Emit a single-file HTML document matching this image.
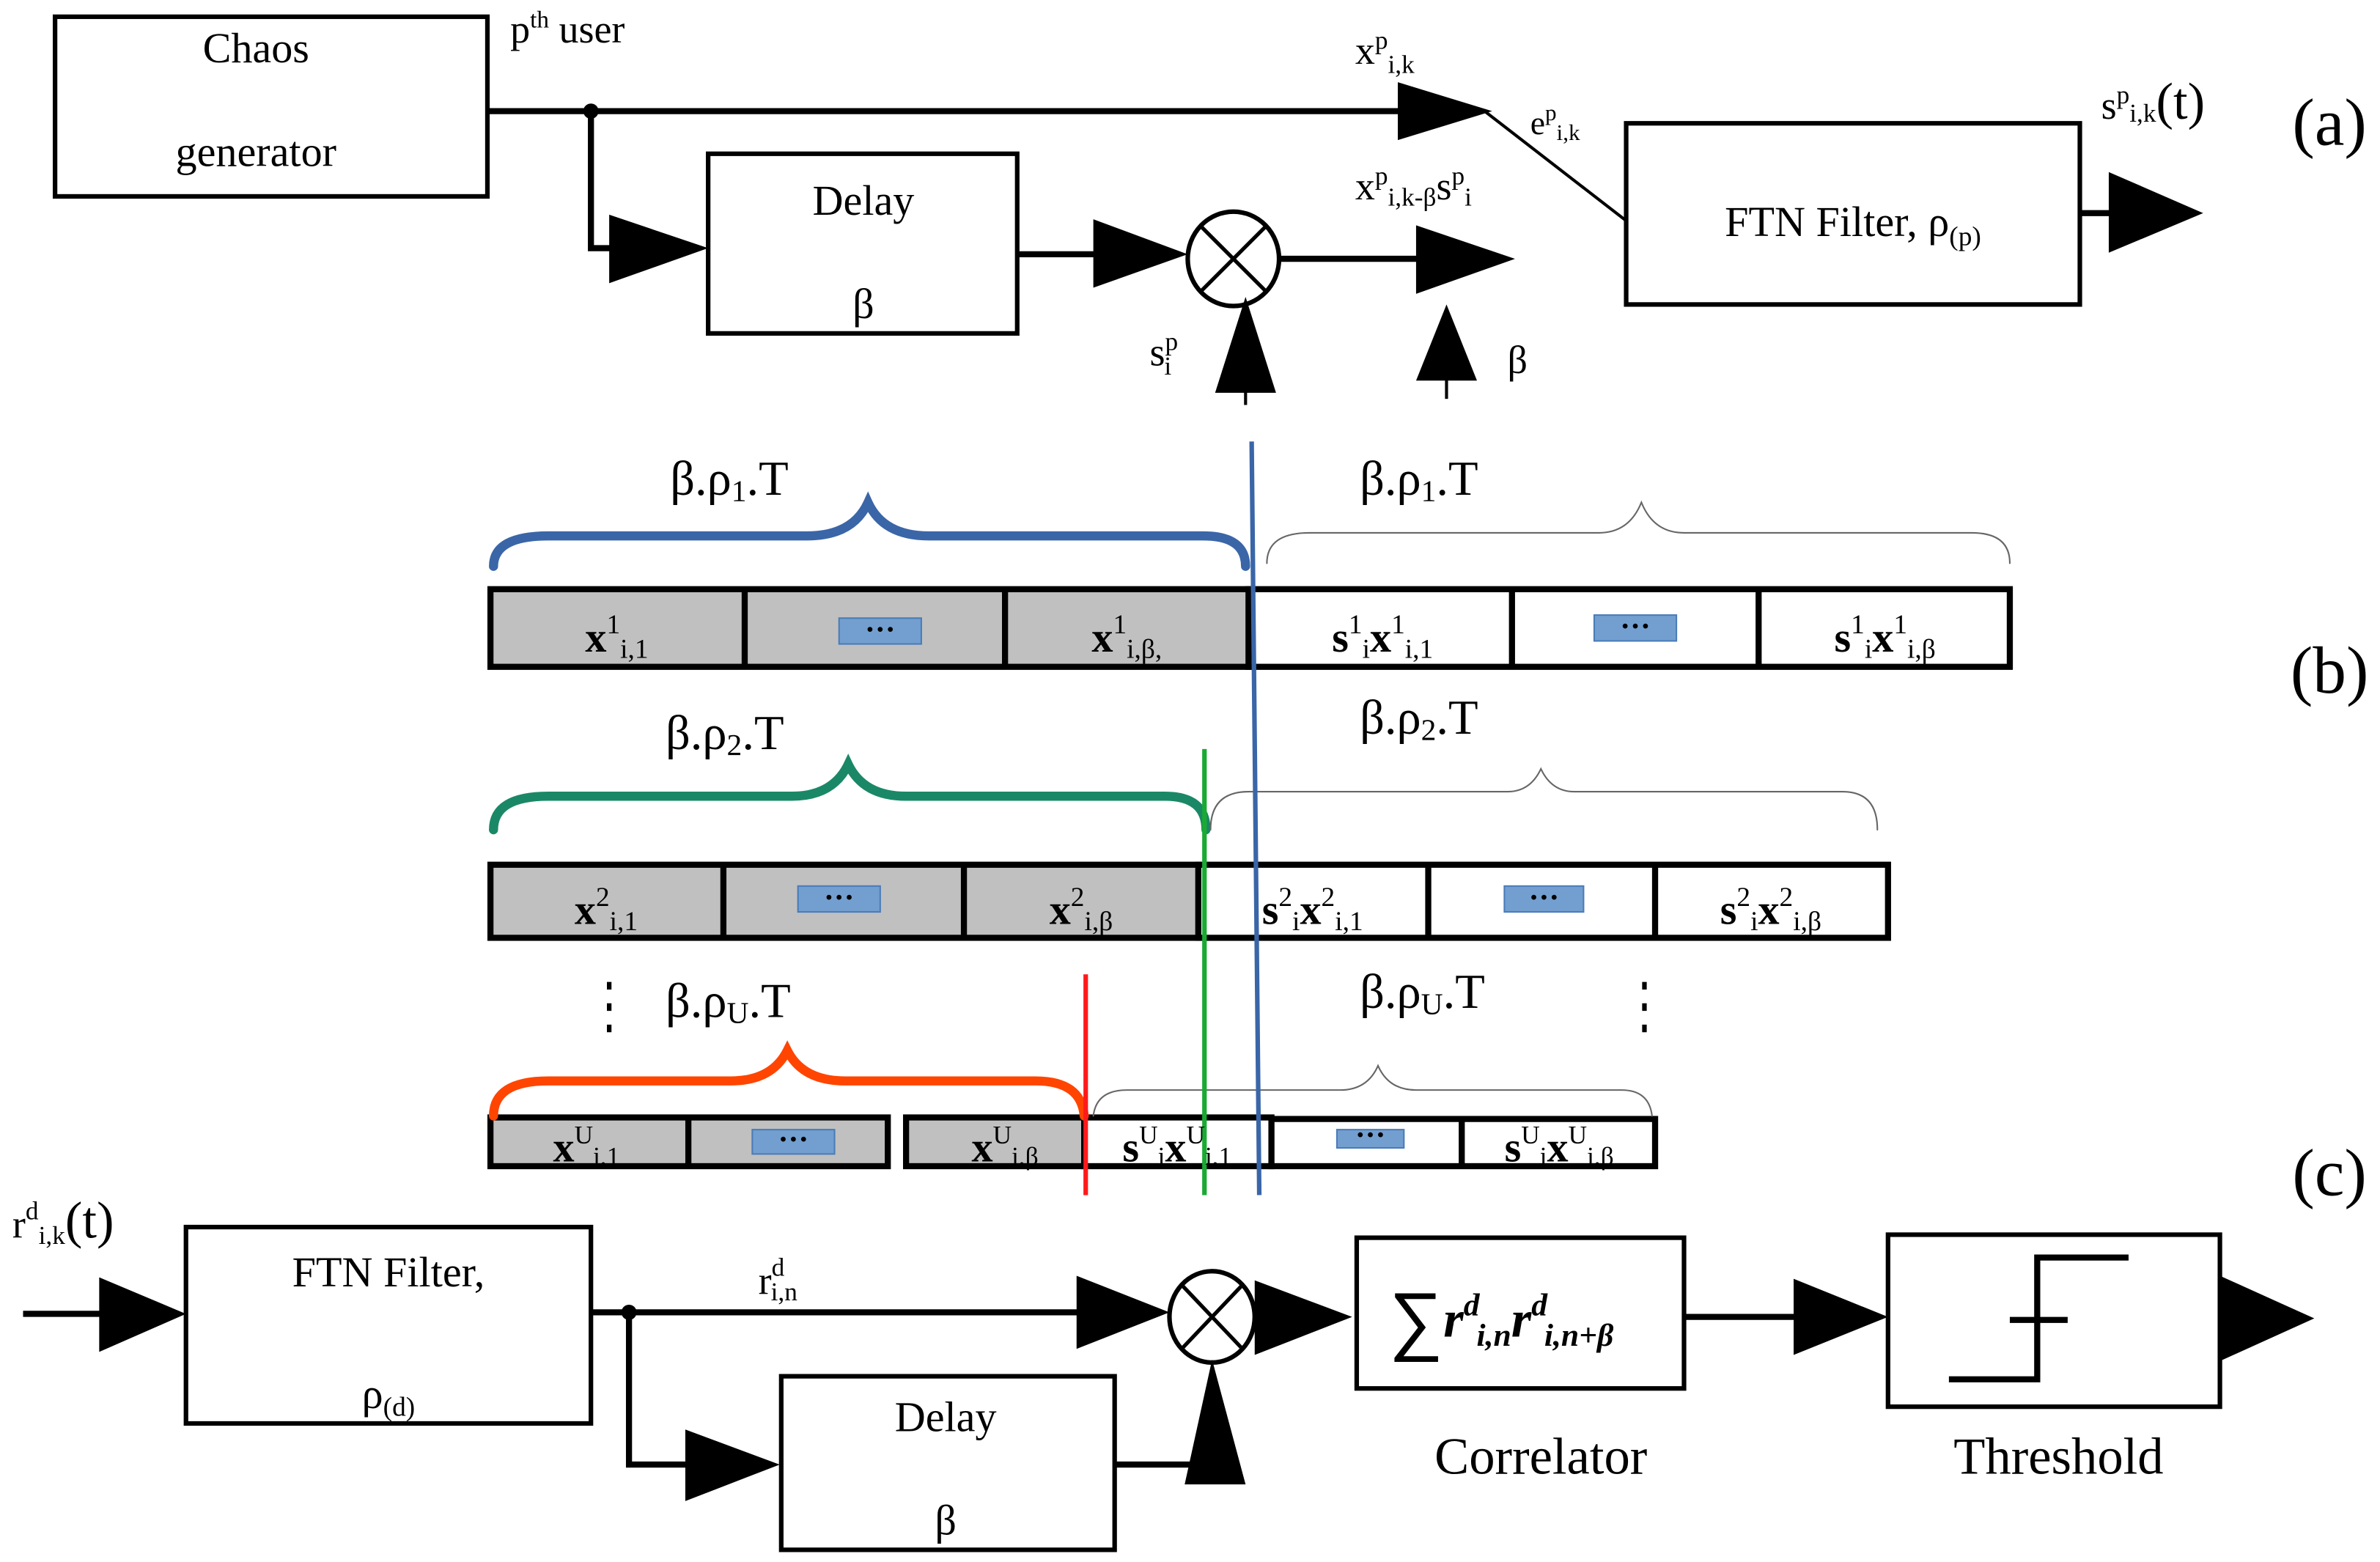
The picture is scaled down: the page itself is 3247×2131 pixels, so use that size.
<!DOCTYPE html>
<html><head><meta charset="utf-8"><style>html,body{margin:0;padding:0;background:#fff}svg{display:block}</style></head>
<body>
<svg width="3247" height="2131" viewBox="0 0 1563 1026" xmlns="http://www.w3.org/2000/svg" font-family="Liberation Serif, serif" fill="#000">
<rect width="1563" height="1026" fill="#fff"/>
<g fill="none" stroke="#000" stroke-width="3">
<rect x="36" y="11" width="284" height="118"/>
<rect x="465" y="101" width="203" height="118"/>
<rect x="1068" y="81" width="298" height="119"/>
<rect x="122" y="806" width="266" height="129"/>
<rect x="513" y="904" width="219" height="114"/>
<rect x="891" y="813" width="215" height="99"/>
<rect x="1240" y="811" width="218" height="113"/>
<ellipse cx="810" cy="170" rx="30" ry="31"/>
<ellipse cx="796" cy="865" rx="28" ry="30"/>
</g>
<g stroke="#000" stroke-width="2.5" fill="none">
<line x1="789" y1="149" x2="831" y2="191"/><line x1="831" y1="149" x2="789" y2="191"/>
<line x1="777" y1="845" x2="815" y2="885"/><line x1="815" y1="845" x2="777" y2="885"/>
</g>
<g stroke="#000" stroke-width="4" fill="none">
<polyline points="320,73 920,73"/>
<polyline points="388,73 388,163 402,163"/>
<line x1="668" y1="167" x2="720" y2="167"/>
<line x1="840" y1="170" x2="932" y2="170"/>
<line x1="1366" y1="140" x2="1387" y2="140"/>
<line x1="15" y1="863" x2="67" y2="863"/>
<line x1="388" y1="862" x2="709" y2="862"/>
<polyline points="413,862 413,962 452,962"/>
<polyline points="732,962 797,962 797,970"/>
<line x1="1106" y1="865" x2="1180" y2="865"/>
<polyline points="1280,906 1338,906 1338,826 1398,826"/>
<line x1="1320" y1="867" x2="1358" y2="867"/>
</g>
<g stroke="#000" stroke-width="2" fill="none">
<line x1="818" y1="255" x2="818" y2="266"/>
<line x1="950" y1="245" x2="950" y2="262"/>
<line x1="975" y1="73" x2="1068" y2="145"/>
</g>
<circle cx="388" cy="73" r="5"/><circle cx="413" cy="862" r="5"/>
<g>
<polygon points="918,54 980,73 918,92"/>
<polygon points="400,141 465,163 400,186"/>
<polygon points="718,144 780,167 718,189"/>
<polygon points="930,148 995,170 930,193"/>
<polygon points="798,258 818,195 838,258"/>
<polygon points="930,250 950,200 970,250"/>
<polygon points="1385,113 1447,140 1385,166"/>
<polygon points="65,839 122,863 65,888"/>
<polygon points="707,838 768,862 707,886"/>
<polygon points="824,841 888,865 824,890"/>
<polygon points="450,939 512,962 450,986"/>
<polygon points="778,975 796,893 818,975"/>
<polygon points="1178,840 1240,865 1178,890"/>
<polygon points="1458,838 1520,866 1458,894"/>
</g>
<g stroke="#000" stroke-width="4">
<rect x="322" y="387" width="498" height="51" fill="#c0c0c0"/>
<rect x="820" y="387" width="500" height="51" fill="#fff"/>
<line x1="489" y1="387" x2="489" y2="438"/><line x1="660" y1="387" x2="660" y2="438"/>
<line x1="993" y1="387" x2="993" y2="438"/><line x1="1155" y1="387" x2="1155" y2="438"/>
<rect x="322" y="568" width="465" height="48" fill="#c0c0c0"/>
<rect x="787" y="568" width="453" height="48" fill="#fff"/>
<line x1="475" y1="568" x2="475" y2="616"/><line x1="633" y1="568" x2="633" y2="616"/>
<line x1="938" y1="568" x2="938" y2="616"/><line x1="1087" y1="568" x2="1087" y2="616"/>
<rect x="322" y="734" width="261" height="32" fill="#c0c0c0"/>
<line x1="452" y1="734" x2="452" y2="766"/>
<rect x="595" y="734" width="117" height="32" fill="#c0c0c0"/>
<rect x="712" y="734" width="123" height="32" fill="#fff"/>
<rect x="835" y="735" width="252" height="31" fill="#fff"/>
<line x1="960" y1="735" x2="960" y2="766"/>
</g>
<g fill="#729fcf" stroke="#4a7cb8" stroke-width="1">
<rect x="551" y="406" width="54" height="17"/><rect x="1047" y="404" width="54" height="17"/>
<rect x="524" y="582" width="54" height="17"/><rect x="988" y="582" width="52" height="17"/>
<rect x="494" y="742" width="54" height="16"/><rect x="878" y="742" width="44" height="12"/>
</g>
<g font-size="20" font-weight="bold" text-anchor="middle" fill="#000">
<text x="578" y="420">···</text><text x="1074" y="418">···</text>
<text x="551" y="596">···</text><text x="1014" y="596">···</text>
<text x="521" y="755">···</text><text x="900" y="752">···</text>
</g>
<g fill="none" stroke-linecap="round">
<path d="M324,372 Q324,352 360,352 L530,352 Q560,352 570,330 Q580,352 610,352 L790,352 Q818,352 818,372" stroke="#3a66a8" stroke-width="6"/>
<path d="M324,545 Q324,523 360,523 L520,523 Q547,523 557,502 Q567,523 595,523 L765,523 Q792,523 792,545" stroke="#1a8866" stroke-width="6"/>
<path d="M324,733 Q324,710 360,710 L480,710 Q507,710 517,690 Q527,710 555,710 L680,710 Q710,710 712,733" stroke="#ff4500" stroke-width="6"/>
<path d="M832,370 Q832,350 860,350 L1050,350 Q1070,350 1078,330 Q1086,350 1106,350 L1295,350 Q1320,350 1320,370" stroke="#666" stroke-width="1"/>
<path d="M795,545 Q795,520 820,520 L990,520 Q1005,520 1012,505 Q1019,520 1034,520 L1210,520 Q1233,520 1233,545" stroke="#666" stroke-width="1"/>
<path d="M718,733 Q720,716 740,716 L880,716 Q898,716 905,700 Q912,716 930,716 L1065,716 Q1083,716 1085,733" stroke="#666" stroke-width="1"/>
</g>
<g stroke-width="3">
<line x1="822" y1="290" x2="827" y2="785" stroke="#3a66a8"/>
<line x1="791" y1="492" x2="791" y2="785" stroke="#1aaa33"/>
<line x1="713" y1="640" x2="713" y2="785" stroke="#ff1a1a"/>
</g>
<g stroke="#000" stroke-width="3" stroke-dasharray="5,9"><line x1="400" y1="645" x2="400" y2="684"/><line x1="1080" y1="645" x2="1080" y2="684"/></g>
<g font-size="28" text-anchor="middle">
<text x="168" y="41">Chaos</text><text x="168" y="109">generator</text>
<text x="567" y="141">Delay</text><text x="567" y="209">β</text>
<text x="1217" y="155">FTN Filter, ρ<tspan font-size="18" dy="6">(p)</tspan></text>
<text x="255" y="845">FTN Filter,</text><text x="255" y="925">ρ<tspan font-size="18" dy="5">(d)</tspan></text>
<text x="621" y="940">Delay</text><text x="621" y="1008">β</text>
<text x="1012" y="968" font-size="34">Correlator</text>
<text x="1352" y="968" font-size="34">Threshold</text>
<text x="1530" y="95" font-size="44">(a)</text>
<text x="1530" y="455" font-size="44">(b)</text>
<text x="1530" y="785" font-size="44">(c)</text>
</g>
<g font-size="26">
<text x="335" y="28">p<tspan font-size="16" dy="-10">th</tspan><tspan dy="10"> user</tspan></text>
<text x="890" y="42">x<tspan font-size="17" dy="-10">p</tspan><tspan font-size="17" dy="16">i,k</tspan></text>
<text x="1005" y="88" font-size="22">e<tspan font-size="15" dy="-9">p</tspan><tspan font-size="15" dy="13">i,k</tspan></text>
<text x="890" y="131">x<tspan font-size="17" dy="-10">p</tspan><tspan font-size="17" dy="14">i,k-β</tspan><tspan dy="-4">s</tspan><tspan font-size="17" dy="-10">p</tspan><tspan font-size="17" dy="14">i</tspan></text>
<text x="755" y="240">s<tspan font-size="17" dy="-10">p</tspan><tspan font-size="17" dx="-9" dy="16">i</tspan></text>
<text x="990" y="245">β</text>
<text x="1380" y="78">s<tspan font-size="17" dy="-10">p</tspan><tspan font-size="17" dy="12">i,k</tspan><tspan font-size="34" dy="-2">(t)</tspan></text>
<text x="8" y="813">r<tspan font-size="17" dy="-12">d</tspan><tspan font-size="17" dy="16">i,k</tspan><tspan font-size="34" dy="-4">(t)</tspan></text>
<text x="498" y="850">r<tspan font-size="17" dy="-12">d</tspan><tspan font-size="17" dx="-9" dy="16">i,n</tspan></text>
<text x="440" y="325" font-size="32">β.ρ<tspan font-size="20" dy="4">1</tspan><tspan dy="-4">.T</tspan></text>
<text x="893" y="325" font-size="32">β.ρ<tspan font-size="20" dy="4">1</tspan><tspan dy="-4">.T</tspan></text>
<text x="437" y="492" font-size="32">β.ρ<tspan font-size="20" dy="4">2</tspan><tspan dy="-4">.T</tspan></text>
<text x="893" y="482" font-size="32">β.ρ<tspan font-size="20" dy="4">2</tspan><tspan dy="-4">.T</tspan></text>
<text x="437" y="668" font-size="32">β.ρ<tspan font-size="20" dy="4">U</tspan><tspan dy="-4">.T</tspan></text>
<text x="893" y="662" font-size="32">β.ρ<tspan font-size="20" dy="4">U</tspan><tspan dy="-4">.T</tspan></text>
</g>
<g font-size="28" font-weight="bold" text-anchor="middle">
<text x="405" y="428">x<tspan font-size="18" font-weight="normal" dy="-12">1</tspan><tspan font-size="18" font-weight="normal" dy="16">i,1</tspan></text>
<text x="740" y="428">x<tspan font-size="18" font-weight="normal" dy="-12">1</tspan><tspan font-size="18" font-weight="normal" dy="16">i,β,</tspan></text>
<text x="908" y="428">s<tspan font-size="18" font-weight="normal" dy="-12">1</tspan><tspan font-size="18" font-weight="normal" dy="16">i</tspan><tspan dy="-4">x</tspan><tspan font-size="18" font-weight="normal" dy="-12">1</tspan><tspan font-size="18" font-weight="normal" dy="16">i,1</tspan></text>
<text x="1238" y="428">s<tspan font-size="18" font-weight="normal" dy="-12">1</tspan><tspan font-size="18" font-weight="normal" dy="16">i</tspan><tspan dy="-4">x</tspan><tspan font-size="18" font-weight="normal" dy="-12">1</tspan><tspan font-size="18" font-weight="normal" dy="16">i,β</tspan></text>
<text x="398" y="607">x<tspan font-size="18" font-weight="normal" dy="-12">2</tspan><tspan font-size="18" font-weight="normal" dy="16">i,1</tspan></text>
<text x="710" y="607">x<tspan font-size="18" font-weight="normal" dy="-12">2</tspan><tspan font-size="18" font-weight="normal" dy="16">i,β</tspan></text>
<text x="862" y="607">s<tspan font-size="18" font-weight="normal" dy="-12">2</tspan><tspan font-size="18" font-weight="normal" dy="16">i</tspan><tspan dy="-4">x</tspan><tspan font-size="18" font-weight="normal" dy="-12">2</tspan><tspan font-size="18" font-weight="normal" dy="16">i,1</tspan></text>
<text x="1163" y="607">s<tspan font-size="18" font-weight="normal" dy="-12">2</tspan><tspan font-size="18" font-weight="normal" dy="16">i</tspan><tspan dy="-4">x</tspan><tspan font-size="18" font-weight="normal" dy="-12">2</tspan><tspan font-size="18" font-weight="normal" dy="16">i,β</tspan></text>
<text x="385" y="763">x<tspan font-size="17" font-weight="normal" dy="-12">U</tspan><tspan font-size="17" font-weight="normal" dy="14">i,1</tspan></text>
<text x="660" y="763">x<tspan font-size="17" font-weight="normal" dy="-12">U</tspan><tspan font-size="17" font-weight="normal" dy="14">i,β</tspan></text>
<text x="773" y="763">s<tspan font-size="17" font-weight="normal" dy="-12">U</tspan><tspan font-size="17" font-weight="normal" dy="14">i</tspan><tspan dy="-2">x</tspan><tspan font-size="17" font-weight="normal" dy="-12">U</tspan><tspan font-size="17" font-weight="normal" dy="14">i,1</tspan></text>
<text x="1024" y="763">s<tspan font-size="17" font-weight="normal" dy="-12">U</tspan><tspan font-size="17" font-weight="normal" dy="14">i</tspan><tspan dy="-2">x</tspan><tspan font-size="17" font-weight="normal" dy="-12">U</tspan><tspan font-size="17" font-weight="normal" dy="14">i,β</tspan></text>
</g>
<text x="912" y="884" font-size="50" font-family="Liberation Sans, sans-serif">∑</text>
<text x="948" y="878" font-size="34" font-style="italic" font-weight="bold">r<tspan font-size="21" dy="-14">d</tspan><tspan font-size="21" dy="20" dx="-2">i,n</tspan><tspan dy="-6">r</tspan><tspan font-size="21" dy="-14">d</tspan><tspan font-size="21" dy="20" dx="-2">i,n+β</tspan></text>
</svg>
</body></html>
